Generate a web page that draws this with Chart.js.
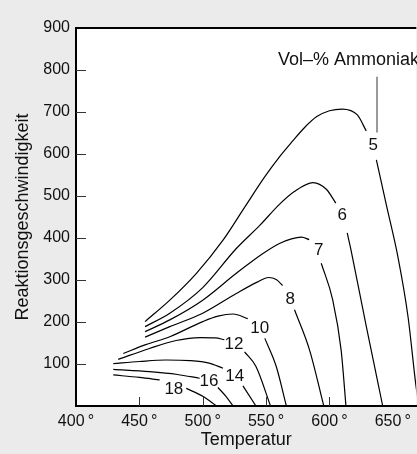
<!DOCTYPE html>
<html>
<head>
<meta charset="utf-8">
<script src="https://cdn.jsdelivr.net/npm/chart.js@4.4.0/dist/chart.umd.min.js"></script>
<style>
html, body { margin: 0; padding: 0; background: #ebebeb; overflow: hidden; }
canvas { display: block; }
</style>
</head>
<body>
<canvas id="myChart" width="417" height="454"></canvas>
<script>
/* 資料開始 */
// Temperatur (x) und Reaktionsgeschwindigkeit (y) je Kurve, null = Lücke für die Beschriftung
var temp5 = [454.5, 474, 495, 516, 533, 549, 561, 571, 580, 590, 600, 610, 622, 629, 633, 637, 645, 654, 662, 668, 670.5];
var rate5 = [201, 252, 316, 395, 473, 546, 595, 631, 662, 689, 703, 707, 693, 655, null, 586, 477, 355, 212, 54, 0];

var temp6 = [454.5, 474, 500, 526.5, 545, 560.5, 572, 587, 597.5, 605, 609, 614, 617, 629, 642];
var rate6 = [189, 221, 282, 375, 430, 480, 510, 532, 516, 483, null, 412, 371, 190, 0];

var temp7 = [454.5, 474, 500, 526.5, 547.5, 560.5, 570, 578, 584, 588, 593.5, 602.6, 609.2, 613];
var rate7 = [177, 205, 252, 316, 363, 387, 398, 402, 396, null, 340, 252, 133, 0];

var temp8 = [454.5, 474, 500, 526.5, 543, 552, 558, 563, 567, 572.4, 584.3, 595.5];
var rate8 = [164, 189, 221, 268, 295, 306, 301, 287, null, 229, 133, 0];

var temp10 = [437.3, 455, 474, 500, 512, 524, 535.5, 541, 549, 558, 566];
var rate10 = [125, 146, 165, 201, 214, 219, 208, null, 161, 94, 0];

var temp12 = [433.3, 458, 479, 498, 510, 517, 524, 533, 542, 553.5];
var rate12 = [111, 137, 156, 163, 162, 158, null, 129, 94, 0];

var temp14 = [429.4, 450, 471, 490, 505, 516, 524, 531.7, 542];
var rate14 = [101, 106, 109.5, 108, 102, 90, null, 48, 0];

var temp16 = [429.4, 458, 480, 497.6, 505, 512, 518, 524];
var rate16 = [87, 81.7, 75, 66, null, 44, 24, 0];

var temp18 = [429.4, 450, 466, 476, 487, 500, 511];
var rate18 = [74, 68, 62, null, 42, 23, 0];

// Kurvenbeschriftung (Vol-% Ammoniak)
var labelNames = ['5', '6', '7', '8', '10', '12', '14', '16', '18'];
var labelTemp = [634.6, 610, 591.6, 569, 544.9, 524.7, 525.2, 505, 477.2];
var labelRate = [620, 453, 370, 255, 185, 147, 70, 59.5, 40];

// Hinweis oben rechts
var noteText = 'Vol\u2013% Ammoniak';
var noteTemp = [559.3];
var noteRate = [824];
var pointerTemp = [637.5, 637.5];
var pointerRate = [784, 651];

// Achsen
var xTickValues = [400, 450, 500, 550, 600, 650];
var xInnerTicks = [450, 500, 550, 600];
var yTickValues = [100, 200, 300, 400, 500, 600, 700, 800, 900];
var yInnerTicks = [100, 200, 300, 400, 500, 600, 700, 800];
/* 資料結束 */

var fontFamily = '"Liberation Sans", Arial, sans-serif';

function makeSeries(temps, rates) {
	var pts = [];
	for (var i = 0; i < temps.length; i++) {
		pts.push({ x: temps[i], y: rates[i] });
	}
	return pts;
}

function curve(temps, rates) {
	return {
		data: makeSeries(temps, rates),
		borderColor: '#000',
		borderWidth: 1.2,
		pointRadius: 0,
		fill: false,
		spanGaps: false,
		cubicInterpolationMode: 'monotone'
	};
}

var datasets = [
	curve(temp5, rate5),
	curve(temp6, rate6),
	curve(temp7, rate7),
	curve(temp8, rate8),
	curve(temp10, rate10),
	curve(temp12, rate12),
	curve(temp14, rate14),
	curve(temp16, rate16),
	curve(temp18, rate18),
	{
		// Zeiger zur Beschriftung "5"
		data: makeSeries(pointerTemp, pointerRate),
		borderColor: '#777',
		borderWidth: 1.5,
		pointRadius: 0,
		tension: 0
	}
];

// weißer Zeichenbereich, Rahmen oben, Teilstriche innen, Texte
var paperPlugin = {
	id: 'paper',
	beforeDraw: function(chart) {
		var a = chart.chartArea;
		var ctx = chart.ctx;
		ctx.save();
		ctx.fillStyle = '#fff';
		ctx.fillRect(a.left, a.top, a.right - a.left, a.bottom - a.top);
		ctx.restore();
	},
	afterDraw: function(chart) {
		var a = chart.chartArea;
		var ctx = chart.ctx;
		var xs = chart.scales.x;
		var ys = chart.scales.y;
		ctx.save();

		ctx.strokeStyle = '#000';
		ctx.lineWidth = 2;
		ctx.beginPath();
		ctx.moveTo(a.left - 1, a.top);
		ctx.lineTo(a.right, a.top);
		ctx.stroke();

		ctx.lineWidth = 1;
		ctx.strokeStyle = '#333';
		xInnerTicks.forEach(function(v) {
			var px = Math.round(xs.getPixelForValue(v)) + 0.5;
			ctx.beginPath();
			ctx.moveTo(px, a.bottom);
			ctx.lineTo(px, a.bottom - 9);
			ctx.stroke();
		});
		yInnerTicks.forEach(function(v) {
			var py = Math.round(ys.getPixelForValue(v)) + 0.5;
			ctx.beginPath();
			ctx.moveTo(a.left, py);
			ctx.lineTo(a.left + 10, py);
			ctx.stroke();
		});

		ctx.fillStyle = '#111';
		ctx.textAlign = 'center';
		ctx.textBaseline = 'middle';
		ctx.font = '17px ' + fontFamily;
		for (var i = 0; i < labelNames.length; i++) {
			ctx.fillText(labelNames[i], xs.getPixelForValue(labelTemp[i]), ys.getPixelForValue(labelRate[i]));
		}

		ctx.textAlign = 'left';
		ctx.font = '18px ' + fontFamily;
		ctx.fillText(noteText, xs.getPixelForValue(noteTemp[0]), ys.getPixelForValue(noteRate[0]));

		ctx.restore();
	}
};

var ctx = document.getElementById('myChart');

var myChart = new Chart(ctx, {
	type: 'line',
	data: { datasets: datasets },
	plugins: [paperPlugin],
	options: {
		responsive: false,
		animation: false,
		devicePixelRatio: 1,
		layout: { padding: { top: 28, right: 0, left: 0, bottom: 0 } },
		plugins: {
			legend: { display: false },
			tooltip: { enabled: false }
		},
		scales: {
			x: {
				type: 'linear',
				min: 400,
				max: 668.5,
				afterBuildTicks: function(scale) {
					scale.ticks = xTickValues.map(function(v) { return { value: v }; });
				},
				afterFit: function(scale) { scale.height = 48; },
				grid: { display: false, drawTicks: false },
				border: { display: true, color: '#000', width: 2 },
				ticks: {
					color: '#111',
					padding: 6,
					maxRotation: 0,
					autoSkip: false,
					font: { family: fontFamily, size: 16 },
					callback: function(v) { return v + '\u2009\u00b0'; }
				},
				title: {
					display: true,
					text: 'Temperatur',
					color: '#111',
					padding: { top: 0, bottom: 3 },
					font: { family: fontFamily, size: 18 }
				}
			},
			y: {
				min: 0,
				max: 900,
				afterBuildTicks: function(scale) {
					scale.ticks = yTickValues.map(function(v) { return { value: v }; });
				},
				afterFit: function(scale) { scale.width = 76; },
				grid: { display: false, drawTicks: false },
				border: { display: true, color: '#000', width: 2 },
				ticks: {
					color: '#111',
					padding: 6,
					font: { family: fontFamily, size: 16 }
				},
				title: {
					display: true,
					text: 'Reaktionsgeschwindigkeit',
					color: '#111',
					padding: { top: 12, bottom: 0 },
					font: { family: fontFamily, size: 18 }
				}
			}
		}
	}
});
</script>
</body>
</html>
